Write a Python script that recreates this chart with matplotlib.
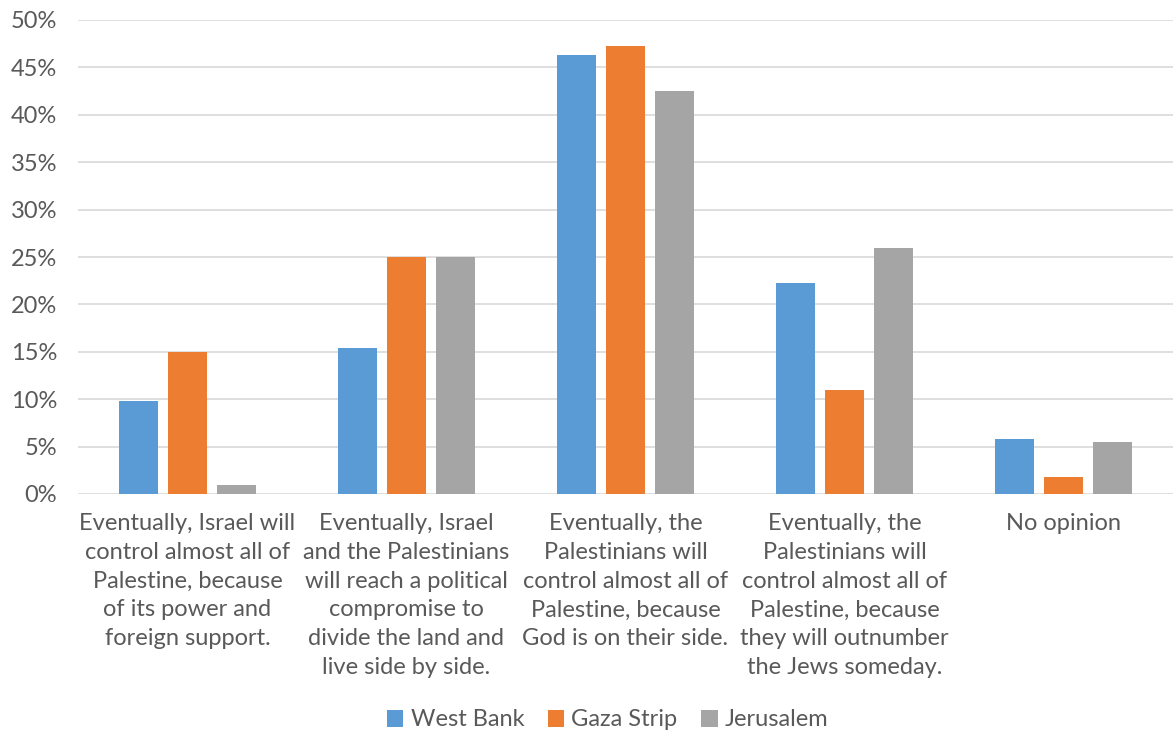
import matplotlib.pyplot as plt
import numpy as np

plt.rcParams['font.family'] = ['Lato', 'DejaVu Sans']

categories = [
    "Eventually, Israel will\ncontrol almost all of\nPalestine, because\nof its power and\nforeign support.",
    "Eventually, Israel\nand the Palestinians\nwill reach a political\ncompromise to\ndivide the land and\nlive side by side.",
    "Eventually, the\nPalestinians will\ncontrol almost all of\nPalestine, because\nGod is on their side.",
    "Eventually, the\nPalestinians will\ncontrol almost all of\nPalestine, because\nthey will outnumber\nthe Jews someday.",
    "No opinion",
]
west_bank = [9.8, 15.4, 46.3, 22.3, 5.8]
gaza_strip = [15.0, 25.0, 47.3, 11.0, 1.8]
jerusalem = [1.0, 25.0, 42.5, 26.0, 5.5]

series = [("West Bank", west_bank, "#5b9bd5"),
          ("Gaza Strip", gaza_strip, "#ed7d31"),
          ("Jerusalem", jerusalem, "#a5a5a5")]

txt = "#595959"
fig = plt.figure(figsize=(11.73, 7.36), dpi=100)
ax = fig.add_axes([78/1173, 1 - 494/736, 1 - 78/1173, (494 - 20)/736])

x = np.arange(len(categories))
w = 0.178
step = 0.224
for i, (name, vals, col) in enumerate(series):
    ax.bar(x + (i - 1) * step, vals, w, color=col, label=name, zorder=2)

ax.set_xlim(-0.5, len(categories) - 0.5)
ax.set_ylim(0, 50)
ax.set_yticks(range(0, 51, 5))
ax.set_yticklabels([f"{v}%" for v in range(0, 51, 5)])
ax.set_xticks(x)
ax.set_xticklabels(categories, linespacing=1.45)
ax.tick_params(axis='both', length=0, labelsize=17, colors=txt)
ax.tick_params(axis='x', pad=14)
ax.tick_params(axis='y', pad=15)
ax.grid(axis='y', color='#d9d9d9', linewidth=1.2, zorder=0)
for s in ax.spines.values():
    s.set_visible(False)

fig.legend(loc='center', bbox_to_anchor=(0.518, 1 - 720/736), ncol=3, frameon=False,
           fontsize=17, labelcolor=txt, handlelength=0.7, handleheight=0.7,
           handletextpad=0.3, columnspacing=1.0)

fig.savefig("out.png", dpi=100)
